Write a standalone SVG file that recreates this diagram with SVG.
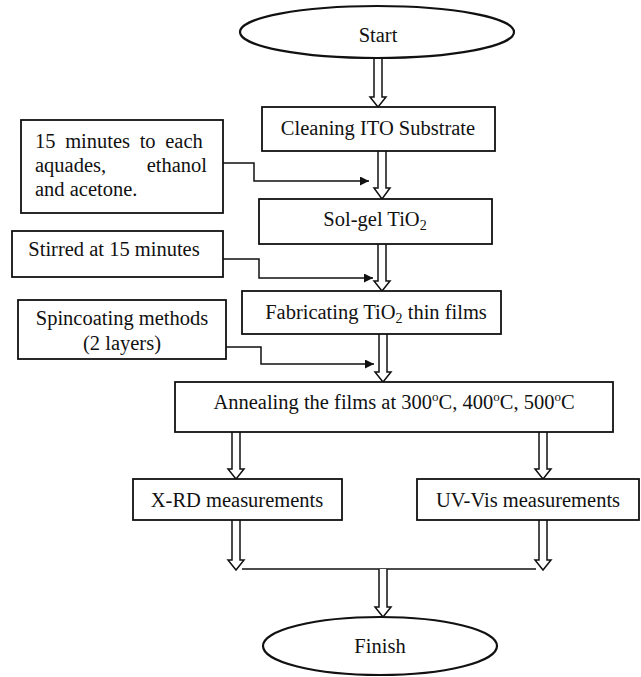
<svg xmlns="http://www.w3.org/2000/svg" width="641" height="677" viewBox="0 0 641 677">
<style>
.box{fill:#fff;stroke:#111;stroke-width:1.8}
.ell{fill:#fff;stroke:#111;stroke-width:2.2}
.t{font-family:"Liberation Serif","Times New Roman",serif;font-size:20.5px;fill:#111}
.m{text-anchor:middle}
.ha{fill:#fff;stroke:#111;stroke-width:1.5;stroke-linejoin:miter}
.cn{fill:none;stroke:#111;stroke-width:1.5}
</style>
<defs>
<marker id="ah" viewBox="0 0 10 10" refX="10" refY="5" markerWidth="10" markerHeight="9" markerUnits="userSpaceOnUse" orient="auto">
<path d="M0,0 L10,5 L0,10 z" fill="#111"/>
</marker>
</defs>
<rect width="641" height="677" fill="#fff"/>
<g id="connectors">
<path class="ha" d="M374,58 V97 H370 L378,107 L386,97 H382 V58"/>
<path class="ha" d="M378,151 V188 H374 L382,199 L390,188 H386 V151"/>
<path class="ha" d="M378,244 V281 H374 L382,291 L390,281 H386 V244"/>
<path class="ha" d="M379,334 V372 H375 L383,382 L391,372 H387 V334"/>
<path class="ha" d="M232,432 V469 H228 L236,479 L244,469 H240 V432"/>
<path class="ha" d="M539,432 V469 H535 L543,479 L551,469 H547 V432"/>
<path class="ha" d="M232,520 V560 H228 L236,570 L244,560 H240 V520"/>
<path class="ha" d="M539,520 V560 H535 L543,570 L551,560 H547 V520"/>
<path class="cn" d="M242,569 H536"/>
<path class="ha" d="M379,569 V607 H375 L383,617 L391,607 H387 V569"/>
<path class="cn" d="M223,163 H254 V181 H369" marker-end="url(#ah)"/>
<path class="cn" d="M223,259 H259 V278 H373" marker-end="url(#ah)"/>
<path class="cn" d="M226,347 H261 V364 H374" marker-end="url(#ah)"/>
</g>
<g id="start">
<ellipse class="ell" cx="377" cy="32" rx="137" ry="26"/>
<text class="t m" x="378" y="42">Start</text>
</g>
<g id="cleaning">
<rect class="box" x="262" y="107" width="233" height="44"/>
<text class="t m" x="378" y="135">Cleaning ITO Substrate</text>
</g>
<g id="note1">
<rect class="box" x="21" y="120" width="202" height="93"/>
<text class="t" x="35" y="148" word-spacing="4.5">15 minutes to each</text>
<text class="t" x="35" y="172">aquades,</text>
<text class="t" x="207" y="172" text-anchor="end">ethanol</text>
<text class="t" x="35" y="196">and acetone.</text>
</g>
<g id="solgel">
<rect class="box" x="259" y="199" width="233" height="45"/>
<text class="t m" x="375" y="226">Sol-gel TiO<tspan font-size="14" dy="4">2</tspan></text>
</g>
<g id="note2">
<rect class="box" x="12" y="231" width="211" height="46"/>
<text class="t m" x="114" y="256">Stirred at 15 minutes</text>
</g>
<g id="fabricating">
<rect class="box" x="242" y="291" width="259" height="43"/>
<text class="t m" x="376" y="319">Fabricating TiO<tspan font-size="14" dy="4">2</tspan><tspan dy="-4"> thin films</tspan></text>
</g>
<g id="note3">
<rect class="box" x="18" y="300" width="208" height="59"/>
<text class="t m" x="122" y="325">Spincoating methods</text>
<text class="t m" x="122" y="350">(2 layers)</text>
</g>
<g id="annealing">
<rect class="box" x="175" y="382" width="438" height="50"/>
<text class="t m" x="394" y="409">Annealing the films at 300<tspan font-size="13" dy="-8">o</tspan><tspan dy="8">C, 400</tspan><tspan font-size="13" dy="-8">o</tspan><tspan dy="8">C, 500</tspan><tspan font-size="13" dy="-8">o</tspan><tspan dy="8">C</tspan></text>
</g>
<g id="xrd">
<rect class="box" x="133" y="479" width="209" height="41"/>
<text class="t m" x="237" y="507">X-RD measurements</text>
</g>
<g id="uvvis">
<rect class="box" x="417" y="479" width="222" height="41"/>
<text class="t m" x="528" y="507">UV-Vis measurements</text>
</g>
<g id="finish">
<ellipse class="ell" cx="380" cy="646" rx="117" ry="29"/>
<text class="t m" x="380" y="653">Finish</text>
</g>
</svg>
